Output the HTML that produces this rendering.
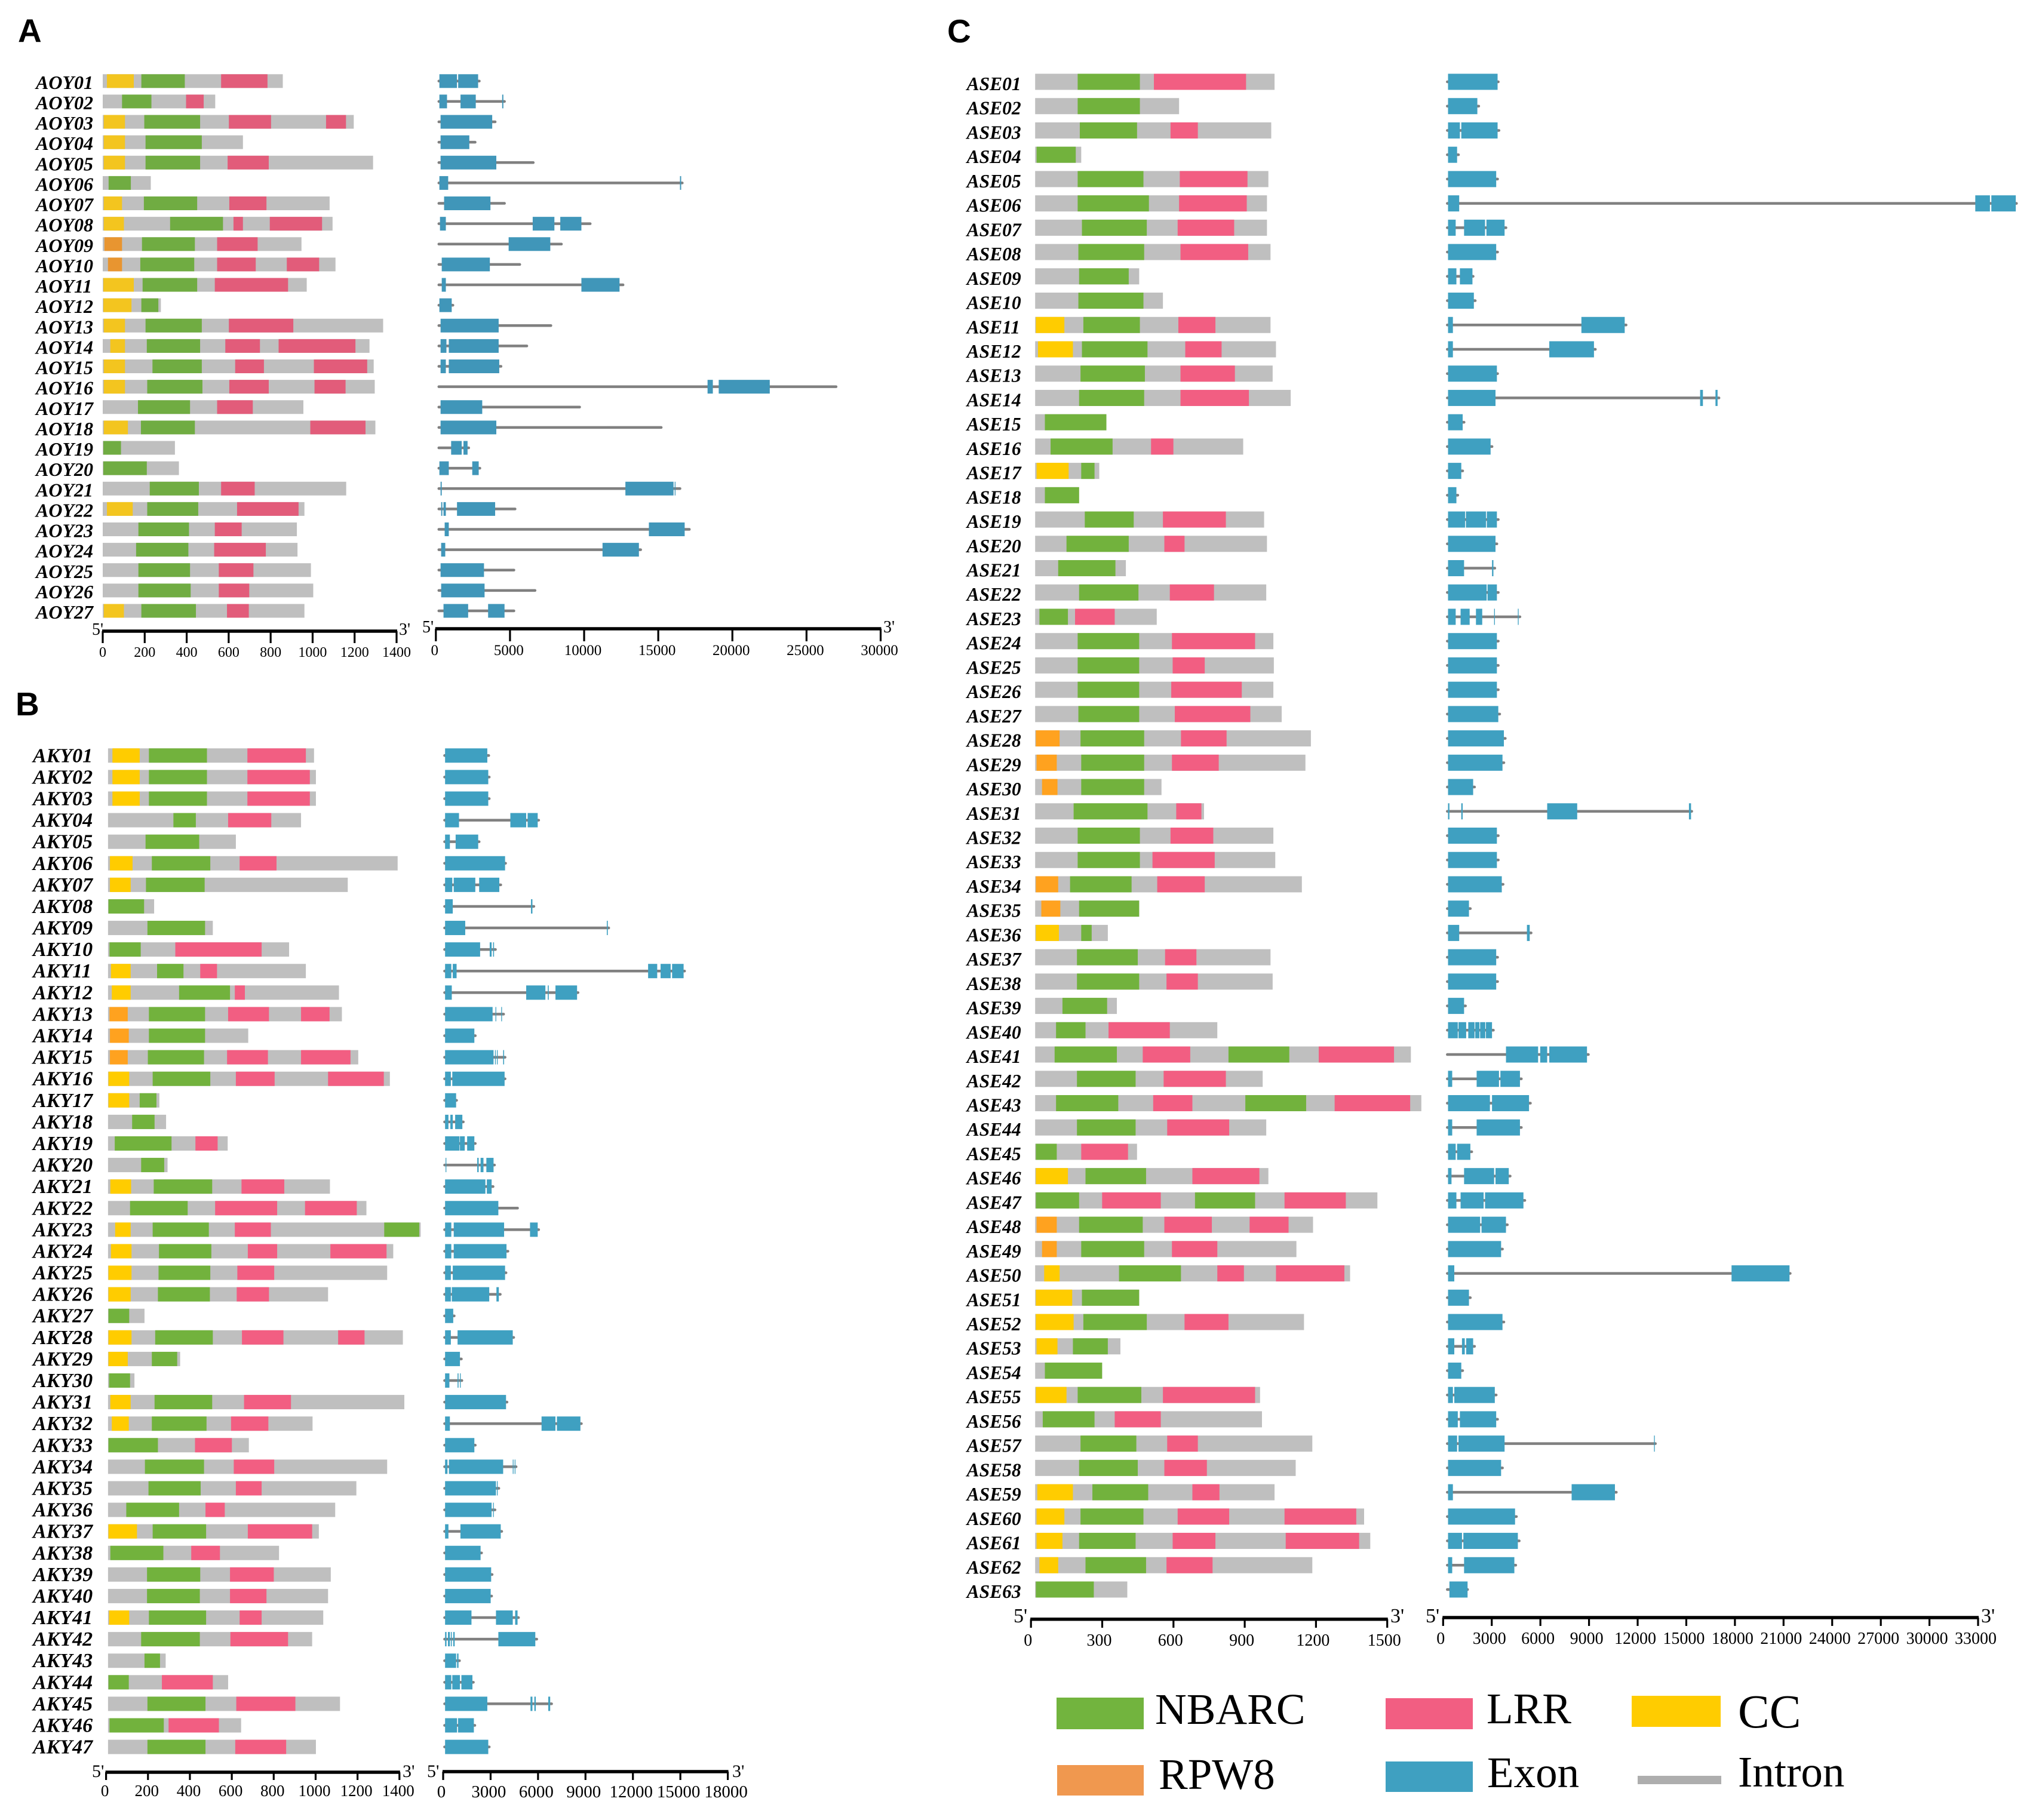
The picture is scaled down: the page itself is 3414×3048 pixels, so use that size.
<!DOCTYPE html>
<html lang="en">
<head>
<meta charset="utf-8">
<title>Gene structure and conserved domains of AOY, AKY and ASE genes</title>
<style>
html,body{margin:0;padding:0;background:#fff}
svg{display:block}
text{font-family:"Liberation Serif",serif;fill:#000}
.panel-letter{font-family:"Liberation Sans",sans-serif;font-weight:700;font-size:55px}
.gene-label{font-weight:700;font-style:italic}
.legend-text{font-size:73px}
</style>
</head>
<body>
<svg id="chart" xmlns="http://www.w3.org/2000/svg" width="3414" height="3048" viewBox="0 0 3414 3048">
<rect width="3414" height="3048" fill="#fff"/>
<text class="panel-letter" x="30" y="70">A</text>
<text class="panel-letter" x="26" y="1198">B</text>
<text class="panel-letter" x="1586" y="71">C</text>
<g>
<rect x="1769" y="2843" width="146" height="53" fill="#72b43e"/>
<text class="legend-text" x="1934" y="2887">NBARC</text>
<rect x="2320" y="2844" width="146" height="52" fill="#f25e82"/>
<text class="legend-text" x="2489" y="2886">LRR</text>
<rect x="2732" y="2840" width="149" height="52" fill="#ffcc00"/>
<text class="legend-text" x="2910" y="2893" style="font-size:79px">CC</text>
<rect x="1770" y="2956" width="145" height="51" fill="#f0984f"/>
<text class="legend-text" x="1940" y="2996">RPW8</text>
<rect x="2320" y="2950" width="146" height="51" fill="#3fa0c1"/>
<text class="legend-text" x="2490" y="2993">Exon</text>
<rect x="2742" y="2974" width="140" height="14" fill="#aeaeae"/>
<text class="legend-text" x="2910" y="2992">Intron</text>
</g>
</svg>
<script>
const N = "NBARC", L = "LRR", C = "CC", R = "RPW8";

/* ---------- Panel A ---------- */
const aoyGenes = ["AOY01","AOY02","AOY03","AOY04","AOY05","AOY06","AOY07","AOY08","AOY09","AOY10","AOY11","AOY12","AOY13","AOY14","AOY15","AOY16","AOY17","AOY18","AOY19","AOY20","AOY21","AOY22","AOY23","AOY24","AOY25","AOY26","AOY27"];
const aoyProteinLengths = [858,536,1196,668,1288,229,1081,1095,947,1109,972,277,1336,1271,1291,1296,956,1299,344,363,1160,961,925,928,992,1003,961];
const aoyDomains = [
[[C,20,148],[N,184,391],[L,564,785]],
[[N,92,232],[L,397,481]],
[[C,5,106],[N,198,464],[L,601,802],[L,1064,1159]],
[[C,5,106],[N,204,472]],
[[C,5,106],[N,204,464],[L,595,791]],
[[N,28,134]],
[[C,5,92],[N,196,450],[L,603,780]],
[[C,5,101],[N,321,573],[L,623,668],[L,796,1045]],
[[R,8,92],[N,187,439],[L,545,738]],
[[R,25,92],[N,179,436],[L,545,729],[L,877,1031]],
[[C,3,148],[N,190,450],[L,534,883]],
[[C,3,137],[N,184,265]],
[[C,5,106],[N,204,472],[L,601,908]],
[[C,36,106],[N,210,464],[L,584,749],[L,838,1204]],
[[C,5,106],[N,237,472],[L,631,768],[L,1006,1260]],
[[C,5,106],[N,212,475],[L,603,791],[L,1009,1157]],
[[N,168,416],[L,545,715]],
[[C,5,120],[N,182,439],[L,989,1252]],
[[N,3,87]],
[[N,3,210]],
[[N,224,458],[L,564,724]],
[[C,20,143],[N,212,455],[L,640,933]],
[[N,170,411],[L,534,662]],
[[N,159,408],[L,531,777]],
[[N,170,416],[L,553,718]],
[[N,170,419],[L,553,698]],
[[C,5,101],[N,184,444],[L,592,696]]
];
const aoyGeneLengths = [2930,4630,4000,2650,6570,16620,4630,10410,8470,5660,12626,1150,7758,6135,4393,26994,9697,15199,2216,2968,16465,5343,17098,13813,5264,6689,5264];
const aoyExons = [
[[237,1425],[1504,2850]],
[[237,752],[1662,2691],[4472,4552]],
[[317,3800]],
[[317,2256]],
[[317,4077]],
[[237,831],[16465,16545]],
[[554,3681]],
[[277,673],[6531,7995],[8391,9816]],
[[4908,7718]],
[[396,3641]],
[[396,673],[9816,12389]],
[[237,1069]],
[[317,4235]],
[[317,712],[871,4235]],
[[317,673],[871,4275]],
[[18325,18682],[19078,22521]],
[[317,3127]],
[[317,4077]],
[[1029,1742],[1860,2137]],
[[237,871],[2454,2889]],
[[317,396],[12784,16030],[16110,16149]],
[[356,435],[515,673],[1425,3998]],
[[594,871],[14368,16782]],
[[356,633],[11241,13695]],
[[317,3246]],
[[356,3285]],
[[515,2177],[3523,4631]]
];
const aoyProteinTicks = [0,200,400,600,800,1000,1200,1400];
const aoyGeneTicks = [0,5000,10000,15000,20000,25000,30000];

/* ---------- Panel B ---------- */
const akyGenes = ["AKY01","AKY02","AKY03","AKY04","AKY05","AKY06","AKY07","AKY08","AKY09","AKY10","AKY11","AKY12","AKY13","AKY14","AKY15","AKY16","AKY17","AKY18","AKY19","AKY20","AKY21","AKY22","AKY23","AKY24","AKY25","AKY26","AKY27","AKY28","AKY29","AKY30","AKY31","AKY32","AKY33","AKY34","AKY35","AKY36","AKY37","AKY38","AKY39","AKY40","AKY41","AKY42","AKY43","AKY44","AKY45","AKY46","AKY47"];
const akyProteinLengths = [983,992,992,921,610,1382,1144,220,500,864,944,1102,1116,669,1194,1345,245,277,571,284,1059,1233,1492,1361,1332,1050,174,1407,344,126,1414,976,672,1332,1185,1084,1006,816,1063,1050,1027,974,275,573,1107,635,992];
const akyDomains = [
[[C,21,151],[N,195,472],[L,665,944]],
[[C,21,151],[N,195,472],[L,665,963]],
[[C,21,151],[N,195,472],[L,665,963]],
[[N,312,419],[L,573,779]],
[[N,179,435]],
[[C,9,117],[N,209,488],[L,628,804]],
[[C,9,108],[N,181,461]],
[[N,2,172]],
[[N,188,463]],
[[N,7,156],[L,321,733]],
[[C,14,108],[N,234,360],[L,440,520]],
[[C,18,108],[N,339,582],[L,605,653]],
[[R,7,94],[N,195,463],[L,573,768],[L,921,1057]],
[[R,9,99],[N,195,463]],
[[R,9,94],[N,190,458],[L,568,763],[L,921,1157]],
[[C,2,101],[N,213,488],[L,610,795],[L,1050,1316]],
[[C,2,101],[N,151,231]],
[[N,115,222]],
[[N,32,303],[L,417,523]],
[[N,158,268]],
[[C,11,110],[N,218,497],[L,637,841]],
[[N,105,380],[L,511,807],[L,940,1187]],
[[C,34,108],[N,213,481],[L,605,777],[N,1318,1485]],
[[C,14,112],[N,243,493],[L,667,807],[L,1061,1329]],
[[C,2,112],[N,241,488],[L,617,793]],
[[C,2,108],[N,238,486],[L,614,768]],
[[N,2,101]],
[[C,2,112],[N,225,500],[L,639,837],[L,1098,1224]],
[[C,2,94],[N,209,330]],
[[N,5,105]],
[[C,11,108],[N,222,497],[L,649,873]],
[[C,18,99],[N,209,470],[L,587,765]],
[[N,2,238],[L,415,591]],
[[N,176,458],[L,600,793]],
[[N,193,442],[L,610,733]],
[[N,87,339],[L,465,557]],
[[C,2,138],[N,213,468],[L,667,974]],
[[N,11,264],[L,397,534]],
[[N,186,440],[L,582,791]],
[[N,186,438],[L,582,756]],
[[C,5,101],[N,195,468],[L,628,733]],
[[N,158,438],[L,584,859]],
[[N,174,248]],
[[N,2,99],[L,257,500]],
[[N,188,465],[L,612,894]],
[[N,7,266],[L,289,529]],
[[N,188,465],[L,607,850]]
];
const akyGeneLengths = [2883,2914,2914,6040,2276,3946,3642,5736,10471,3308,15266,8528,3824,2033,3915,3915,850,1275,2033,3247,3156,4704,6040,4097,3976,3612,698,4461,1153,1184,4037,8741,2033,4613,3521,3278,3703,2428,3096,3065,4765,5918,1032,1912,6859,2003,2914];
const akyExons = [
[[121,2792]],
[[121,2853]],
[[121,2853]],
[[121,1002],[4249,5251],[5342,5979]],
[[121,425],[789,2216]],
[[121,3915]],
[[121,577],[668,2033],[2276,3551]],
[[121,607],[5554,5645]],
[[121,1396],[10349,10410]],
[[121,2337],[2944,3065],[3156,3217]],
[[121,516],[607,850],[12960,13536],[13749,14386],[14477,15205]],
[[121,546],[5251,6465],[6616,6677],[7102,8468]],
[[121,3126],[3308,3339],[3672,3703]],
[[121,1973]],
[[121,3187],[3278,3308],[3400,3430],[3794,3854]],
[[121,486],[577,3885]],
[[121,819]],
[[121,334],[455,607],[759,1214]],
[[121,1032],[1062,1366],[1517,1973]],
[[152,182],[2155,2246],[2367,2549],[2732,3187]],
[[121,2671],[2762,3065]],
[[121,3490]],
[[121,516],[668,3854],[5493,5979]],
[[121,516],[668,4006]],
[[121,486],[607,3915]],
[[121,486],[546,2914],[3369,3521]],
[[121,637]],
[[121,486],[911,4401]],
[[121,1062]],
[[121,395],[911,971],[1062,1093]],
[[121,3976]],
[[121,425],[6222,7102],[7193,8680]],
[[121,1973]],
[[121,273],[364,3794],[4401,4431],[4522,4552]],
[[121,3339],[3400,3430]],
[[121,3065],[3156,3187]],
[[121,334],[1093,3642]],
[[121,2367]],
[[121,3035]],
[[121,3005]],
[[121,1791],[3339,4401],[4552,4704]],
[[121,212],[303,425],[486,546],[637,728],[3490,5827]],
[[121,819],[880,971]],
[[121,516],[577,1062],[1153,1851]],
[[121,2792],[5524,5645],[5767,5858],[6647,6768]],
[[121,880],[941,1942]],
[[121,2853]]
];
const akyProteinTicks = [0,200,400,600,800,1000,1200,1400];
const akyGeneTicks = [0,3000,6000,9000,12000,15000,18000];

/* ---------- Panel C ---------- */
const aseGenes = ["ASE01","ASE02","ASE03","ASE04","ASE05","ASE06","ASE07","ASE08","ASE09","ASE10","ASE11","ASE12","ASE13","ASE14","ASE15","ASE16","ASE17","ASE18","ASE19","ASE20","ASE21","ASE22","ASE23","ASE24","ASE25","ASE26","ASE27","ASE28","ASE29","ASE30","ASE31","ASE32","ASE33","ASE34","ASE35","ASE36","ASE37","ASE38","ASE39","ASE40","ASE41","ASE42","ASE43","ASE44","ASE45","ASE46","ASE47","ASE48","ASE49","ASE50","ASE51","ASE52","ASE53","ASE54","ASE55","ASE56","ASE57","ASE58","ASE59","ASE60","ASE61","ASE62","ASE63"];
const aseProteinLengths = [1008,606,994,194,982,976,976,991,438,538,991,1014,1000,1076,300,876,270,185,964,976,382,973,512,1003,1005,1003,1038,1161,1138,532,711,1003,1011,1123,438,306,991,1000,344,767,1582,958,1626,973,429,982,1441,1170,1100,1326,438,1132,359,282,947,955,1167,1097,1008,1385,1411,1167,388];
const aseDomains = [
[[N,179,441],[L,500,888]],
[[N,179,441]],
[[N,188,429],[L,570,685]],
[[N,6,171]],
[[N,179,456],[L,609,894]],
[[N,179,479],[L,606,891]],
[[N,197,470],[L,600,838]],
[[N,182,459],[L,612,897]],
[[N,185,394]],
[[N,182,456]],
[[C,3,123],[N,203,441],[L,603,759]],
[[C,12,159],[N,197,473],[L,632,785]],
[[N,191,462],[L,612,841]],
[[N,185,459],[L,612,900]],
[[N,41,300]],
[[N,65,326],[L,488,582]],
[[C,6,141],[N,194,250]],
[[N,41,185]],
[[N,209,415],[L,538,803]],
[[N,132,394],[L,544,629]],
[[N,97,338]],
[[N,185,435],[L,567,753]],
[[N,18,138],[L,168,335]],
[[N,179,438],[L,576,926]],
[[N,179,438],[L,579,714]],
[[N,179,438],[L,573,870]],
[[N,182,438],[L,588,906]],
[[R,3,103],[N,191,459],[L,614,806]],
[[R,6,91],[N,194,459],[L,576,773]],
[[R,29,94],[N,194,459]],
[[N,162,473],[L,594,700]],
[[N,179,441],[L,570,750]],
[[N,179,441],[L,494,756]],
[[R,3,97],[N,147,406],[L,514,714]],
[[R,26,106],[N,185,438]],
[[C,3,100],[N,194,238]],
[[N,176,432],[L,547,679]],
[[N,176,438],[L,553,685]],
[[N,115,303]],
[[N,88,212],[L,309,567]],
[[N,82,344],[L,453,653],[N,814,1070],[L,1194,1511]],
[[N,176,423],[L,541,803]],
[[N,88,350],[L,497,662],[N,885,1141],[L,1261,1579]],
[[N,176,423],[L,556,817]],
[[N,3,91],[L,194,391]],
[[C,3,138],[N,212,467],[L,662,944]],
[[N,3,185],[L,282,529],[N,673,926],[L,1050,1308]],
[[R,6,91],[N,185,453],[L,544,744],[L,903,1067]],
[[R,29,91],[N,194,459],[L,576,767]],
[[C,38,103],[N,353,614],[L,767,879],[L,1014,1302]],
[[C,3,156],[N,197,438]],
[[C,3,162],[N,203,470],[L,629,814]],
[[C,6,94],[N,159,306]],
[[N,41,282]],
[[C,3,132],[N,179,447],[L,538,926]],
[[N,32,250],[L,335,529]],
[[N,191,426],[L,556,685]],
[[N,185,432],[L,544,723]],
[[C,9,159],[N,241,476],[L,662,776]],
[[C,6,123],[N,191,456],[L,600,817],[L,1050,1352]],
[[C,6,115],[N,185,423],[L,579,759],[L,1055,1364]],
[[C,18,97],[N,212,467],[L,553,747]],
[[N,3,247]]
];
const aseGeneLengths = [3403,2197,3446,948,3360,35369,3877,3360,1852,1982,11287,9391,3360,17017,1292,3016,1206,905,3403,3317,3188,3403,4739,3403,3403,3403,3490,3834,3748,1939,15336,3403,3403,3700,1680,5428,3360,3360,1380,3102,8961,4825,5385,4825,1766,4136,5040,3963,3662,21411,1680,3748,1939,1206,3274,3360,13096,3662,10684,4523,4696,4480,1508];
const aseExons = [
[[302,3360]],
[[302,2111]],
[[302,1034],[1120,3360]],
[[302,862]],
[[302,3274]],
[[302,991],[32827,33731],[33818,35326]],
[[302,775],[1292,2585],[2671,3791]],
[[302,3274]],
[[302,819],[1034,1809]],
[[302,1896]],
[[302,603],[8530,11201]],
[[302,603],[6548,9305]],
[[302,3317]],
[[302,3231],[15853,16026],[16801,16930]],
[[302,1206]],
[[302,2929]],
[[302,1120]],
[[302,819]],
[[302,1355],[1405,2645],[2695,3317]],
[[302,3231]],
[[302,1292],[3016,3102]],
[[302,2685],[2740,3317]],
[[302,775],[1077,1637],[2025,2412],[3145,3188],[4610,4653]],
[[302,3317]],
[[302,3317]],
[[302,3317]],
[[302,3403]],
[[302,3748]],
[[302,3662]],
[[302,1852]],
[[302,388],[1120,1206],[6419,8271],[15164,15293]],
[[302,3317]],
[[302,3317]],
[[302,3619]],
[[302,1594]],
[[302,991],[5170,5342]],
[[302,3274]],
[[302,3274]],
[[302,1292]],
[[302,905],[948,1422],[1550,1939],[1980,2240],[2283,2600],[2640,3016]],
[[3877,5859],[5988,6419],[6548,8875]],
[[302,560],[2068,3446],[3533,4739]],
[[302,2886],[3016,5299]],
[[302,560],[2068,4739]],
[[302,775],[862,1680]],
[[302,517],[1292,3145],[3231,4050]],
[[302,819],[1077,2499],[2585,4954]],
[[302,2283],[2369,3877]],
[[302,3576]],
[[302,689],[17792,21368]],
[[302,1594]],
[[302,3662]],
[[302,689],[1163,1335],[1422,1852]],
[[302,1120]],
[[302,603],[689,3188]],
[[302,905],[1034,3274]],
[[302,862],[948,3791],[13010,13053]],
[[302,3576]],
[[302,603],[7927,10598]],
[[302,4437]],
[[302,1163],[1249,4610]],
[[302,560],[1292,4394]],
[[388,1508]]
];
const aseProteinTicks = [0,300,600,900,1200,1500];
const aseGeneTicks = [0,3000,6000,9000,12000,15000,18000,21000,24000,27000,30000,33000];

const SVG_NS = "http://www.w3.org/2000/svg";
const chart = document.getElementById("chart");

function make(tag, attrs, parent) {
  const node = document.createElementNS(SVG_NS, tag);
  for (const key in attrs) node.setAttribute(key, attrs[key]);
  parent.appendChild(node);
  return node;
}

function linearScale(d1, r0, r1) {
  return function (v) { return r0 + (v / d1) * (r1 - r0); };
}

function drawAxis(parent, name, scale, ticks, a) {
  const g = make("g", {}, parent);
  
  
  const last = ticks[ticks.length - 1];
  const bar = make("line", {x1: scale(0) - 1, x2: scale(last) + 1, y1: a.y, y2: a.y, stroke: "#000", "stroke-width": 5.5}, g);
  
  
  ticks.forEach(function (t) {
    const tick = make("line", {x1: scale(t), x2: scale(t), y1: a.y, y2: a.tickEnd, stroke: "#000", "stroke-width": 3.2}, g);
    
    
    const label = make("text", {x: scale(t) + a.dx, y: a.labelY, "text-anchor": "middle", "font-size": a.fs}, g);
    label.textContent = String(t);
    
    
  });
  const five = make("text", {x: a.fiveX, y: a.endY, "font-size": a.endFs}, g);
  five.textContent = "5'";
  
  
  const three = make("text", {x: a.threeX, y: a.endY, "font-size": a.endFs}, g);
  three.textContent = "3'";
  
  
}

function drawPanel(p) {
  const root = make("g", {}, chart);
  
  
  const protX = linearScale(p.protTicks[p.protTicks.length - 1], p.protX0, p.protX1);
  const geneX = linearScale(p.geneTicks[p.geneTicks.length - 1], p.geneX0, p.geneX1);
  const rowY = linearScale(p.genes.length - 1, p.y0, p.y1);
  p.genes.forEach(function (gene, i) {
    const cy = rowY(i);
    const top = cy - p.barH / 2;
    const row = make("g", {}, root);
    
    
    const label = make("text", {class: "gene-label", x: p.labelX, y: cy + p.labelDy, "font-size": p.labelFs}, row);
    label.textContent = gene;
    
    
    const px = function (v) { return protX(v) + p.barOffset; };
    const protein = make("rect", {x: px(0), y: top, width: px(p.lengths[i]) - px(0), height: p.barH, fill: "#bfbfbf"}, row);
    
    
    p.domains[i].forEach(function (d) {
      const dom = make("rect", {x: px(d[1]), y: top, width: px(d[2]) - px(d[1]), height: p.barH, fill: p.colors[d[0]]}, row);
      
      
    });
    const intron = make("line", {x1: geneX(p.lineStart), x2: geneX(p.geneEnds[i]), y1: cy, y2: cy, stroke: "#808080", "stroke-width": 4.5, "stroke-linecap": "round"}, row);
    
    
    p.exons[i].forEach(function (e) {
      const ex = make("rect", {x: geneX(e[0]), y: top, width: Math.max(geneX(e[1]) - geneX(e[0]), 1.3), height: p.barH, fill: p.exonColor}, row);
      
      
    });
  });
  drawAxis(root, p.name + "-protein-axis", protX, p.protTicks, p.protAxis);
  drawAxis(root, p.name + "-gene-axis", geneX, p.geneTicks, p.geneAxis);
}

const mutedColors = {NBARC: "#70ac42", LRR: "#e25c7a", CC: "#f3c51f", RPW8: "#e89530"};
const brightColors = {NBARC: "#72b23d", LRR: "#f25e82", CC: "#ffcc00", RPW8: "#ffa21f"};

drawPanel({
  name: "panel-a", genes: aoyGenes, lengths: aoyProteinLengths, domains: aoyDomains,
  geneEnds: aoyGeneLengths, exons: aoyExons, protTicks: aoyProteinTicks, geneTicks: aoyGeneTicks,
  colors: mutedColors, exonColor: "#4096b9", lineStart: 200,
  protX0: 172, protX1: 664, geneX0: 729.8, geneX1: 1474.5, barOffset: 0,
  y0: 135.8, y1: 1023, barH: 23, labelX: 60, labelDy: 13, labelFs: 32,
  protAxis: {y: 1057, tickEnd: 1077, labelY: 1100, fs: 24, dx: 0, fiveX: 154, threeX: 668, endY: 1063, endFs: 28},
  geneAxis: {y: 1053, tickEnd: 1074, labelY: 1097, fs: 25, dx: -2, fiveX: 707, threeX: 1479, endY: 1059, endFs: 28}
});
drawPanel({
  name: "panel-b", genes: akyGenes, lengths: akyProteinLengths, domains: akyDomains,
  geneEnds: akyGeneLengths, exons: akyExons, protTicks: akyProteinTicks, geneTicks: akyGeneTicks,
  colors: brightColors, exonColor: "#3fa0c1", lineStart: 91,
  protX0: 177.6, protX1: 668.8, geneX0: 742, geneX1: 1218.6, barOffset: 3.3,
  y0: 1265.3, y1: 2925.6, barH: 24, labelX: 55, labelDy: 11, labelFs: 34,
  protAxis: {y: 2968, tickEnd: 2981, labelY: 3008, fs: 27, dx: -2, fiveX: 154, threeX: 674, endY: 2976, endFs: 30},
  geneAxis: {y: 2967, tickEnd: 2981, labelY: 3010, fs: 29, dx: -3, fiveX: 715, threeX: 1226, endY: 2976, endFs: 30}
});
drawPanel({
  name: "panel-c", genes: aseGenes, lengths: aseProteinLengths, domains: aseDomains,
  geneEnds: aseGeneLengths, exons: aseExons, protTicks: aseProteinTicks, geneTicks: aseGeneTicks,
  colors: brightColors, exonColor: "#3fa0c1", lineStart: 258,
  protX0: 1726.2, protX1: 2322.7, geneX0: 2416.3, geneX1: 3312, barOffset: 7,
  y0: 137, y1: 2662, barH: 27, labelX: 1618.6, labelDy: 14, labelFs: 31.5,
  protAxis: {y: 2711.7, tickEnd: 2726, labelY: 2756, fs: 28, dx: -5, fiveX: 1697, threeX: 2328, endY: 2717, endFs: 34},
  geneAxis: {y: 2709, tickEnd: 2723, labelY: 2753, fs: 28, dx: -4, fiveX: 2387, threeX: 3317, endY: 2717, endFs: 34}
});
</script>
</body>
</html>
